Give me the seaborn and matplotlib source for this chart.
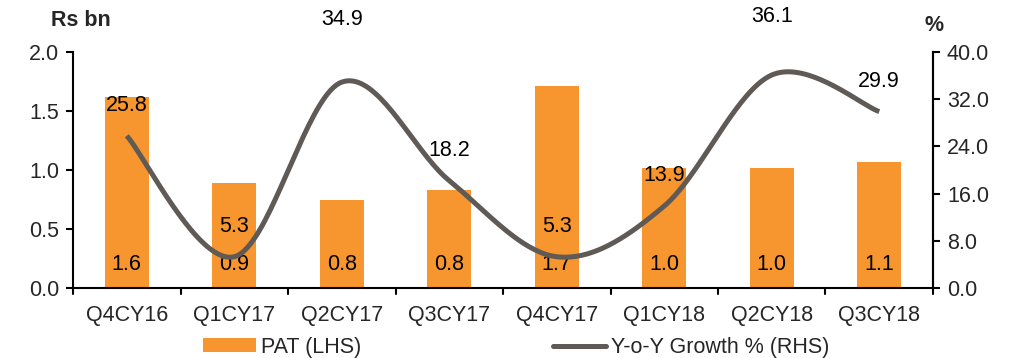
import numpy as np
import pandas as pd
import matplotlib
matplotlib.use("Agg")
import matplotlib.pyplot as plt
import seaborn as sns
from matplotlib.patches import Patch
from matplotlib.lines import Line2D

quarters = ["Q4CY16", "Q1CY17", "Q2CY17", "Q3CY17", "Q4CY17", "Q1CY18", "Q2CY18", "Q3CY18"]
pat = [1.62, 0.89, 0.75, 0.83, 1.71, 1.02, 1.02, 1.07]
yoy_growth = [25.8, 5.3, 34.9, 18.2, 5.3, 13.9, 36.1, 29.9]

BAR_COLOR = "#F7962F"
LINE_COLOR = "#5F5A56"
FS = 15.5

sns.set_theme(style="white")
plt.rcParams["font.family"] = ["Liberation Sans", "DejaVu Sans"]

fig = plt.figure(figsize=(10.2, 3.58), dpi=100)
ax = fig.add_axes([0.0716, 0.1955, 0.9147 - 0.0716, 0.8547 - 0.1955])

df = pd.DataFrame({"quarter": quarters, "pat": pat})
sns.barplot(data=df, x="quarter", y="pat", color=BAR_COLOR, saturation=1,
            width=0.41, ax=ax, edgecolor="none")

ax.set_ylim(0, 2.0)
ax.set_xlim(-0.5, len(quarters) - 0.5)
ax.set_yticks(np.arange(0, 2.01, 0.5))
ax.set_yticklabels([f"{v:.1f}" for v in np.arange(0, 2.01, 0.5)], fontsize=FS)
ax.set_xticks(range(len(quarters)))
ax.set_xticklabels(quarters, fontsize=FS)
ax.tick_params(axis="x", length=0, pad=12)
ax.set_xlabel("")
ax.set_ylabel("")

# category boundary ticks on the x axis
for b in np.arange(-0.5, len(quarters) - 0.4, 1.0):
    ax.plot([b, b], [0, -0.05], color="black", lw=1.5, clip_on=False, transform=ax.transData)

for s in ["left", "bottom", "right"]:
    ax.spines[s].set_visible(True)
    ax.spines[s].set_color("black")
    ax.spines[s].set_linewidth(1.5)
ax.spines["top"].set_visible(False)
ax.tick_params(axis="y", length=5, width=1.5, color="black", direction="out", left=True, pad=5)

# value labels inside bar bases
for i, v in enumerate(pat):
    ax.text(i, 0.2, f"{v:.1f}", ha="center", va="center", fontsize=FS, color="black")

ax2 = ax.twinx()
ax2.set_ylim(0, 40)
ax2.set_yticks(np.arange(0, 40.1, 8))
ax2.set_yticklabels([f"{v:.1f}" for v in np.arange(0, 40.1, 8)], fontsize=FS)
ax2.tick_params(axis="y", length=5, width=1.5, color="black", direction="out", right=True, pad=5)
for s in ["left", "bottom", "top"]:
    ax2.spines[s].set_visible(False)
ax2.spines["right"].set_color("black")
ax2.spines["right"].set_linewidth(1.5)
ax2.grid(False)
ax.grid(False)


def smooth_curve(xs, ys, n=40):
    # Catmull-Rom style Bezier smoothing through every point
    xs = np.asarray(xs, float)
    ys = np.asarray(ys, float)
    px = np.concatenate([[xs[0]], xs, [xs[-1]]])
    py = np.concatenate([[ys[0]], ys, [ys[-1]]])
    out_x, out_y = [], []
    t = np.linspace(0, 1, n)
    for i in range(1, len(px) - 2):
        p0 = np.array([px[i], py[i]])
        p3 = np.array([px[i + 1], py[i + 1]])
        c1 = p0 + (np.array([px[i + 1], py[i + 1]]) - np.array([px[i - 1], py[i - 1]])) / 6
        c2 = p3 - (np.array([px[i + 2], py[i + 2]]) - np.array([px[i], py[i]])) / 6
        b = ((1 - t) ** 3)[:, None] * p0 + (3 * (1 - t) ** 2 * t)[:, None] * c1 \
            + (3 * (1 - t) * t ** 2)[:, None] * c2 + (t ** 3)[:, None] * p3
        out_x.extend(b[:, 0])
        out_y.extend(b[:, 1])
    return np.array(out_x), np.array(out_y)


sx, sy = smooth_curve(range(len(quarters)), yoy_growth)
ax2.plot(sx, sy, color=LINE_COLOR, lw=3.6, solid_capstyle="butt")

label_lift = [22, 22, 45, 22, 22, 22, 42, 22]
for i, v in enumerate(yoy_growth):
    ax2.annotate(f"{v:.1f}", (i, v), xytext=(0, label_lift[i]), textcoords="offset points",
                 ha="center", va="center", fontsize=FS, color="black")

fig.text(0.050, 0.943, "Rs bn", fontsize=FS, fontweight="bold", ha="left", va="center")
fig.text(0.906, 0.928, "%", fontsize=FS, fontweight="bold", ha="left", va="center")

handles = [Patch(facecolor=BAR_COLOR, edgecolor="none"),
           Line2D([0], [0], color=LINE_COLOR, lw=3.6)]
fig.legend(handles, ["PAT (LHS)", "Y-o-Y Growth % (RHS)"], loc="center",
           bbox_to_anchor=(0.506, 0.03), ncol=2, frameon=False, fontsize=FS,
           handlelength=2.45, handleheight=0.6, handletextpad=0.25, columnspacing=8.9)

fig.savefig("out.png", dpi=100)
